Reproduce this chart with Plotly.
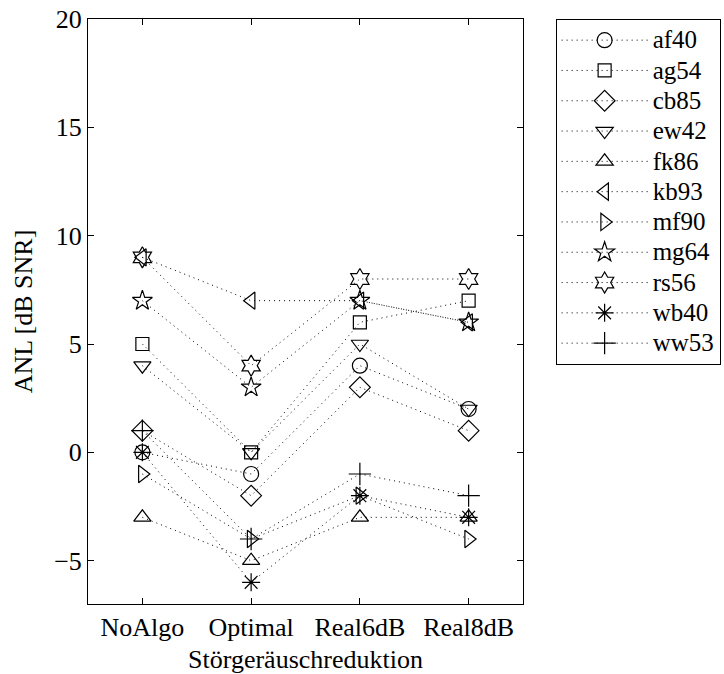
import plotly.graph_objects as go

categories = ["NoAlgo", "Optimal", "Real6dB", "Real8dB"]
subjects = ["af40", "ag54", "cb85", "ew42", "fk86", "kb93", "mf90", "mg64", "rs56", "wb40", "ww53"]
values = {
    "af40": [0, -1, 4, 2],
    "ag54": [5, 0, 6, 7],
    "cb85": [1, -2, 3, 1],
    "ew42": [4, 0, 5, 2],
    "fk86": [-3, -5, -3, -3],
    "kb93": [9, 7, 7, 6],
    "mf90": [-1, -4, -2, -4],
    "mg64": [7, 3, 7, 6],
    "rs56": [9, 4, 8, 8],
    "wb40": [0, -6, -2, -3],
    "ww53": [1, -4, -1, -2],
}
symbols = {
    "af40": "circle-open", "ag54": "square-open", "cb85": "diamond-open",
    "ew42": "triangle-down-open", "fk86": "triangle-up-open", "kb93": "triangle-left-open",
    "mf90": "triangle-right-open", "mg64": "star-open", "rs56": "hexagram-open",
    "wb40": "asterisk-open", "ww53": "cross-thin-open",
}
sizes = {"af40": 15, "ag54": 13, "cb85": 16, "ew42": 15, "fk86": 15, "kb93": 15,
         "mf90": 15, "mg64": 15, "rs56": 16, "wb40": 15, "ww53": 16}

x_pos = [1, 2, 3, 4]
FONT = "Liberation Serif"

fig = go.Figure()
for s in subjects:
    fig.add_trace(go.Scatter(
        x=x_pos, y=values[s], mode="lines+markers",
        name='<span style="font-size:25px">' + s + '</span>',
        line=dict(color="black", width=1, dash="1px,4px"),
        marker=dict(symbol=symbols[s], size=sizes[s], color="black",
                    line=dict(color="black", width=1.2)),
    ))

fig.update_layout(
    width=724, height=674,
    margin=dict(l=88, r=201, t=19, b=70, autoexpand=False),
    paper_bgcolor="white", plot_bgcolor="white",
    font=dict(family=FONT, size=26, color="black"),
    showlegend=True,
    legend=dict(x=1.075, y=1.0, xanchor="left", yanchor="top",
                bordercolor="black", borderwidth=1, bgcolor="white",
                font=dict(family=FONT, size=21, color="black"),
                tracegroupgap=0, itemwidth=86),
    xaxis=dict(range=[0.5, 4.5], tickvals=x_pos, ticktext=categories,
               showgrid=False, zeroline=False, showline=True, linecolor="black", linewidth=1,
               mirror="ticks", ticks="inside", ticklen=6, tickcolor="black",
               title=dict(text="Störgeräuschreduktion", standoff=9,
                          font=dict(family=FONT, size=26)),
               tickfont=dict(family=FONT, size=26)),
    yaxis=dict(range=[-7, 20], tickvals=[-5, 0, 5, 10, 15, 20],
               showgrid=False, zeroline=False, showline=True, linecolor="black", linewidth=1,
               mirror="ticks", ticks="inside", ticklen=6, tickcolor="black",
               title=dict(text="ANL [dB SNR]", standoff=14,
                          font=dict(family=FONT, size=26)),
               tickfont=dict(family=FONT, size=26)),
)

fig.write_html("out.html")
